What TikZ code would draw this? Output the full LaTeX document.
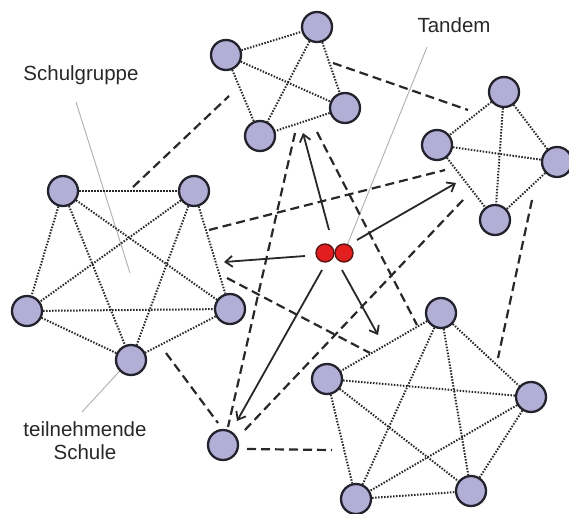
\documentclass[tikz,border=0pt]{standalone}
\usepackage{fontspec}
\setmainfont{Liberation Sans}
\usetikzlibrary{arrows.meta,backgrounds}
\definecolor{nodefill}{RGB}{178,174,214}
\definecolor{nodedraw}{RGB}{35,35,45}
\definecolor{tandemfill}{RGB}{226,30,30}
\definecolor{tandemdraw}{RGB}{90,20,20}
\definecolor{linecol}{RGB}{40,40,40}
\definecolor{labelline}{RGB}{175,175,175}
\definecolor{textcol}{RGB}{40,40,40}
\tikzset{
  school/.style={circle,draw=nodedraw,fill=nodefill,line width=2.3pt,minimum size=30pt,inner sep=0pt},
  tandemp/.style={circle,draw=tandemdraw,fill=tandemfill,line width=1.4pt,minimum size=18pt,inner sep=0pt},
  intra/.style={draw=linecol,line width=2pt,dash pattern=on 1.5pt off 1.5pt},
  inter/.style={draw=linecol,line width=2.2pt,dash pattern=on 9pt off 5pt},
  arr/.style={draw=linecol,line width=1.8pt,-{Straight Barb[length=7pt,width=11pt,line width=1.8pt]}},
  lbl/.style={font=\fontsize{20.5}{23}\selectfont,text=textcol,align=center,inner sep=0pt},
  lblline/.style={draw=labelline,line width=0.9pt}
}
\begin{document}
\begin{tikzpicture}[x=1pt,y=-1pt]
\useasboundingbox (0,0) rectangle (569,513);

% nodes
\node[school] (A1) at (226,55) {};
\node[school] (A2) at (317,27) {};
\node[school] (A3) at (345,108) {};
\node[school] (A4) at (260,136) {};

\node[school] (B1) at (504,92) {};
\node[school] (B2) at (437,145) {};
\node[school] (B3) at (557,162) {};
\node[school] (B4) at (495,220) {};

\node[school] (C1) at (63,191) {};
\node[school] (C2) at (194,191) {};
\node[school] (C3) at (27,311) {};
\node[school] (C4) at (230,309) {};
\node[school] (C5) at (131,360) {};

\node[school] (D) at (223,445) {};

\node[school] (E1) at (441,313) {};
\node[school] (E2) at (327,379) {};
\node[school] (E3) at (531,397) {};
\node[school] (E4) at (356,499) {};
\node[school] (E5) at (471,491) {};

\node[tandemp] (T1) at (325,253) {};
\node[tandemp] (T2) at (344,253) {};

% labels
\node[lbl] (lSG) at (81,75) {Schulgruppe};
\node[lbl] (lTD) at (454,25) {Tandem};
\node[lbl] (lTS) at (85,441) {teilnehmende\\Schule};

\begin{scope}[on background layer]
% label lines
\coordinate (sgA) at (76,102);
\coordinate (sgB) at (130,273);
\coordinate (tdA) at (427,47);
\coordinate (tsA) at (82,412);
\coordinate (tsB) at (128,362);
\path[lblline] (sgA) -- (sgB);
\path[lblline] (tdA) -- (T2.center);
\path[lblline] (tsA) -- (tsB);

% intra-group dotted edges
\foreach \a/\b in {A1/A2,A1/A3,A1/A4,A2/A3,A2/A4,A3/A4,
                   B1/B2,B1/B3,B1/B4,B2/B3,B2/B4,B3/B4,
                   C1/C2,C1/C3,C1/C4,C1/C5,C2/C3,C2/C4,C2/C5,C3/C4,C3/C5,C4/C5,
                   E1/E2,E1/E3,E1/E4,E1/E5,E2/E3,E2/E4,E2/E5,E3/E4,E3/E5,E4/E5}
  \path[intra] (\a) -- (\b);

% inter-group dashed links
\coordinate (d1a) at (133,187); \coordinate (d1b) at (229,96);
\coordinate (d2a) at (333,63);  \coordinate (d2b) at (468,110);
\coordinate (d3a) at (209,230); \coordinate (d3b) at (445,170);
\coordinate (d4a) at (295,133); \coordinate (d4b) at (228,427);
\coordinate (d5a) at (317,132); \coordinate (d5b) at (417,325);
\coordinate (d6a) at (463,200); \coordinate (d6b) at (243,432);
\coordinate (d7a) at (227,278); \coordinate (d7b) at (370,353);
\coordinate (d8a) at (166,353); \coordinate (d8b) at (218,423);
\coordinate (d9a) at (247,449); \coordinate (d9b) at (332,450);
\coordinate (d10a) at (532,200); \coordinate (d10b) at (498,358);
\foreach \i in {1,...,10}
  \path[inter] (d\i a) -- (d\i b);

% arrows from tandem
\coordinate (aUs) at (329,230); \coordinate (aUe) at (303,133);
\coordinate (aLs) at (305,256); \coordinate (aLe) at (224,262);
\coordinate (aRs) at (357,240); \coordinate (aRe) at (456,183);
\coordinate (aBs) at (342,270); \coordinate (aBe) at (378,335);
\coordinate (aDs) at (322,270); \coordinate (aDe) at (237,421);
\path[arr] (aUs) -- (aUe);
\path[arr] (aLs) -- (aLe);
\path[arr] (aRs) -- (aRe);
\path[arr] (aBs) -- (aBe);
\path[arr] (aDs) -- (aDe);
\end{scope}
\end{tikzpicture}
\end{document}
